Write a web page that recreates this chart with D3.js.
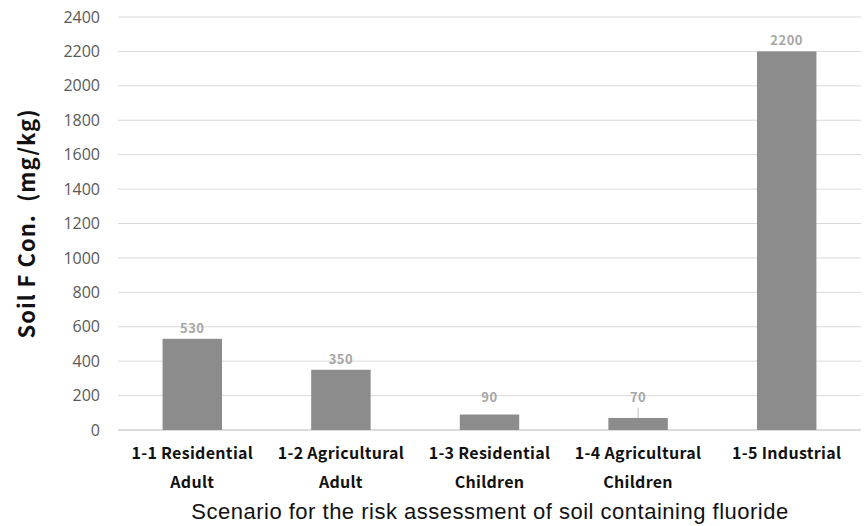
<!DOCTYPE html>
<html>
<head>
<meta charset="utf-8">
<script src="https://cdn.jsdelivr.net/npm/d3@7"></script>
<style>
  body { margin: 0; background: #fff; }
  svg { display: block; }
</style>
</head>
<body>
<div id="chart"></div>
<script>
// chart data
const categories = [
  ["1-1 Residential", "Adult"],
  ["1-2 Agricultural", "Adult"],
  ["1-3 Residential", "Children"],
  ["1-4 Agricultural", "Children"],
  ["1-5 Industrial"]
];
const values = [530, 350, 90, 70, 2200];
const yTicks = [0, 200, 400, 600, 800, 1000, 1200, 1400, 1600, 1800, 2000, 2200, 2400];

const width = 867, height = 526;
const margin = { top: 17, right: 6, bottom: 96, left: 118 };
const innerW = width - margin.left - margin.right;
const innerH = height - margin.top - margin.bottom;

const svg = d3.select("#chart")
  .append("svg")
  .attr("width", width)
  .attr("height", height);

const g = svg.append("g")
  .attr("transform", `translate(${margin.left},${margin.top})`);

const x = d3.scaleBand()
  .domain(d3.range(values.length))
  .range([0, innerW])
  .paddingInner(0.6)
  .paddingOuter(0.3);

const y = d3.scaleLinear()
  .domain([0, 2400])
  .range([innerH, 0]);

// gridlines
g.selectAll(".grid")
  .data(yTicks)
  .enter().append("line")
  .attr("class", "grid")
  .attr("x1", 0)
  .attr("x2", innerW)
  .attr("y1", d => y(d))
  .attr("y2", d => y(d))
  .attr("stroke", d => d === 0 ? "#d0d0d0" : "#d9d9d9")
  .attr("stroke-width", d => d === 0 ? 1.5 : 1);

// y axis labels
const yAxis = d3.axisLeft(y).tickValues(yTicks).tickFormat(d3.format("d")).tickSize(0).tickPadding(18);
g.append("g")
  .call(yAxis)
  .call(a => a.select(".domain").remove())
  .selectAll("text")
  .attr("font-family", "'Open Sans', 'DejaVu Sans', sans-serif")
  .attr("font-size", 16)
  .attr("fill", "#595959");

// bars
g.selectAll(".bar")
  .data(values)
  .enter().append("rect")
  .attr("class", "bar")
  .attr("x", (d, i) => x(i))
  .attr("y", d => y(d))
  .attr("width", x.bandwidth())
  .attr("height", d => innerH - y(d))
  .attr("fill", "#8c8c8c");

// data labels (small bars pushed up a bit as in the original)
const labelY = d => Math.min(y(d) - 6, y(90) - 13);
g.selectAll(".val")
  .data(values)
  .enter().append("text")
  .attr("class", "val")
  .attr("x", (d, i) => x(i) + x.bandwidth() / 2)
  .attr("y", labelY)
  .attr("text-anchor", "middle")
  .attr("font-family", "'Noto Sans CJK KR', 'Noto Sans', sans-serif")
  .attr("font-weight", "bold")
  .attr("font-size", 13)
  .attr("letter-spacing", 0.5)
  .attr("fill", "#a6a6a6")
  .text(d => d);

// leader line for label lifted well off its bar
g.selectAll(".leader")
  .data(values.map((v, i) => ({ v, i })).filter(d => y(d.v) - labelY(d.v) > 15))
  .enter().append("line")
  .attr("class", "leader")
  .attr("x1", d => x(d.i) + x.bandwidth() / 2)
  .attr("x2", d => x(d.i) + x.bandwidth() / 2)
  .attr("y1", d => labelY(d.v) + 6)
  .attr("y2", d => y(d.v))
  .attr("stroke", "#bfbfbf")
  .attr("stroke-width", 1);

// category labels
const cat = g.selectAll(".cat")
  .data(categories)
  .enter().append("text")
  .attr("class", "cat")
  .attr("text-anchor", "middle")
  .attr("font-family", "'Noto Sans CJK KR', 'Noto Sans', sans-serif")
  .attr("font-weight", "bold")
  .attr("font-size", 16)
  .attr("letter-spacing", 0.3)
  .attr("fill", "#111");
cat.selectAll("tspan")
  .data((d, i) => d.map(t => ({ t, i })))
  .enter().append("tspan")
  .attr("x", d => x(d.i) + x.bandwidth() / 2)
  .attr("y", (d, j) => innerH + 29 + j * 29)
  .text(d => d.t);

// axis titles
svg.append("text")
  .attr("x", 490)
  .attr("y", 519)
  .attr("text-anchor", "middle")
  .attr("font-family", "'Liberation Sans', Arial, sans-serif")
  .attr("font-size", 22)
  .attr("letter-spacing", 0.5)
  .attr("fill", "#111")
  .text("Scenario for the risk assessment of soil containing fluoride");

svg.append("text")
  .attr("transform", `translate(35,${margin.top + innerH / 2}) rotate(-90)`)
  .attr("text-anchor", "middle")
  .attr("font-family", "'Noto Sans CJK KR', 'Noto Sans', sans-serif")
  .attr("font-weight", "bold")
  .attr("font-size", 22)
  .attr("letter-spacing", 1)
  .attr("fill", "#111")
  .attr("xml:space", "preserve")
  .text("Soil F Con.  (mg/kg)");
</script>
</body>
</html>
